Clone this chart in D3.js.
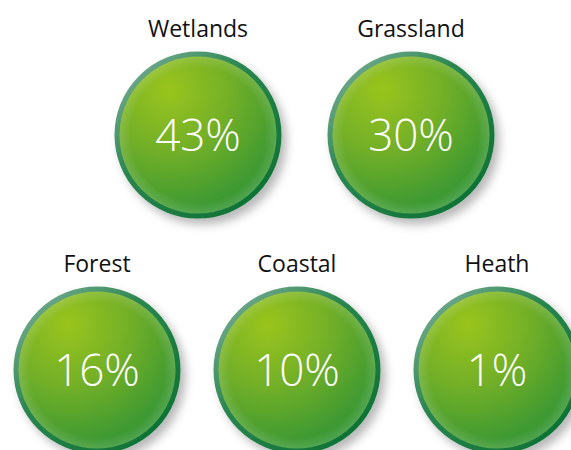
<!DOCTYPE html>
<html>
<head>
<meta charset="utf-8">
<script src="https://cdn.jsdelivr.net/npm/d3@7/dist/d3.min.js"></script>
<style>
  html, body { margin: 0; padding: 0; background: #ffffff; }
  svg { display: block; }
</style>
</head>
<body>
<svg id="chart" width="571" height="450"></svg>
<script>
// Share of habitat types (percent)
const categories = ["Wetlands", "Grassland", "Forest", "Coastal", "Heath"];
const values = [43, 30, 16, 10, 1];
const rows = [0, 0, 1, 1, 1];

const width = 571, height = 450;
const svg = d3.select("#chart");
const defs = svg.append("defs");

// bubble body: light yellow-green highlight towards the upper left
const body = defs.append("radialGradient")
  .attr("id", "bodyFill")
  .attr("cx", "0.32").attr("cy", "0.22").attr("r", "0.85")
  .attr("fx", "0.32").attr("fy", "0.22");
body.append("stop").attr("offset", "0").attr("stop-color", "#9ac41d");
body.append("stop").attr("offset", "0.45").attr("stop-color", "#72af28");
body.append("stop").attr("offset", "1").attr("stop-color", "#2e9335");

// rim: pale teal top-left, deep green bottom-right
const rim = defs.append("linearGradient")
  .attr("id", "rimStroke")
  .attr("x1", "0.1").attr("y1", "0.1").attr("x2", "0.85").attr("y2", "0.9");
rim.append("stop").attr("offset", "0").attr("stop-color", "#6fa88c");
rim.append("stop").attr("offset", "0.4").attr("stop-color", "#2a8650");
rim.append("stop").attr("offset", "1").attr("stop-color", "#0f7235");

// soft inner sheen near the rim
const sheen = defs.append("radialGradient")
  .attr("id", "sheen")
  .attr("cx", "0.5").attr("cy", "0.5").attr("r", "0.5");
sheen.append("stop").attr("offset", "0.86").attr("stop-color", "#ffffff").attr("stop-opacity", 0);
sheen.append("stop").attr("offset", "1").attr("stop-color", "#ffffff").attr("stop-opacity", 0.15);

const shadow = defs.append("filter")
  .attr("id", "shadow")
  .attr("x", "-30%").attr("y", "-30%").attr("width", "160%").attr("height", "160%");
shadow.append("feDropShadow")
  .attr("dx", 5).attr("dy", 6).attr("stdDeviation", 5)
  .attr("flood-color", "#000000").attr("flood-opacity", 0.28);

const data = categories.map((c, i) => ({ name: c, value: values[i], row: rows[i] }));

// horizontal placement within each row
const xTop = d3.scalePoint()
  .domain(data.filter(d => d.row === 0).map(d => d.name))
  .range([198, 411]);
const xBottom = d3.scalePoint()
  .domain(data.filter(d => d.row === 1).map(d => d.name))
  .range([97, 497]);
const yRow = d3.scalePoint().domain([0, 1]).range([135, 370]);
const r = 81;

const xPos = d => (d.row === 0 ? xTop(d.name) : xBottom(d.name));

const g = svg.selectAll("g.bubble")
  .data(data)
  .join("g")
  .attr("class", "bubble")
  .attr("transform", d => `translate(${xPos(d)},${yRow(d.row)})`);

g.append("circle")
  .attr("r", r)
  .attr("fill", "url(#bodyFill)")
  .attr("stroke", "url(#rimStroke)")
  .attr("stroke-width", 5)
  .attr("filter", "url(#shadow)");

g.append("circle")
  .attr("r", r - 2.5)
  .attr("fill", "url(#sheen)");

g.append("text")
  .attr("y", 16)
  .attr("text-anchor", "middle")
  .attr("fill", "#ffffff")
  .style("font-family", "'Open Sans', 'DejaVu Sans', sans-serif")
  .style("font-weight", 300)
  .style("font-size", "44px")
  .text(d => d.value + "%");

g.append("text")
  .attr("y", -r - 17)
  .attr("text-anchor", "middle")
  .attr("fill", "#111111")
  .style("font-family", "'Open Sans', 'DejaVu Sans', sans-serif")
  .style("font-size", "23px")
  .text(d => d.name);
</script>
</body>
</html>
